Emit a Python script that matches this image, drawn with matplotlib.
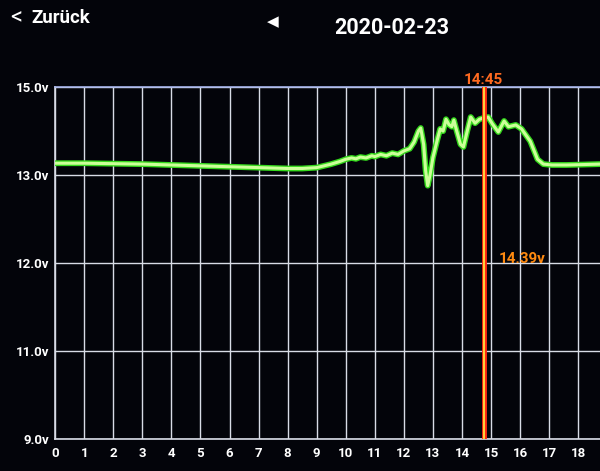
import numpy as np
import matplotlib
matplotlib.use("Agg")
import matplotlib.pyplot as plt

# Spannungsverlauf vom 2020-02-23
hours = [0, 1, 2, 3, 4, 5, 6, 7, 8, 8.5, 9, 9.5, 9.8, 10, 10.2, 10.35, 10.5, 10.7,
         10.9, 11, 11.2, 11.4, 11.6, 11.8, 12, 12.2, 12.35, 12.5, 12.58, 12.68,
         12.75, 12.82, 12.9, 13.0, 13.15, 13.25, 13.35, 13.45, 13.55, 13.65, 13.72,
         13.82, 13.95, 14.05, 14.18, 14.3, 14.45, 14.6, 14.75, 14.9, 15.05, 15.25,
         15.45, 15.6, 15.85, 16.05, 16.35, 16.6, 16.8, 17.1, 17.6, 18.2, 18.75]
volts = [13.27, 13.27, 13.26, 13.25, 13.23, 13.21, 13.19, 13.17, 13.15, 13.15,
         13.17, 13.25, 13.31, 13.36, 13.39, 13.37, 13.41, 13.39, 13.44, 13.42,
         13.47, 13.44, 13.5, 13.47, 13.55, 13.6, 13.75, 14.0, 14.07, 13.7, 13.1,
         12.88, 13.0, 13.4, 13.8, 14.05, 14.0, 14.27, 14.15, 14.1, 14.25, 14.0,
         13.7, 13.64, 14.0, 14.32, 14.18, 14.27, 14.3, 14.32, 14.16, 13.98, 14.23,
         14.1, 14.14, 14.05, 13.77, 13.36, 13.25, 13.23, 13.23, 13.24, 13.25]

y_ticks = [9, 11, 12, 13, 15]
y_labels = ["9.0v", "11.0v", "12.0v", "13.0v", "15.0v"]
x_ticks = list(range(0, 19))
cursor_hour = 14.75
cursor_time = "14:45"
cursor_value = "14.39v"
date_text = "2020-02-23"

plt.rcParams['font.family'] = ['Roboto', 'DejaVu Sans']

fig = plt.figure(figsize=(6, 4.71), dpi=100, facecolor='#03040a')
ax = fig.add_axes([0.092, 0.068, 0.908, 0.747])
ax.set_facecolor('#03040a')

# y-Achse: gleiche Abstaende zwischen 9, 11, 12, 13, 15 V
pos = [0, 1, 2, 3, 4]
ax.set_yscale('function', functions=(lambda v: np.interp(v, y_ticks, pos),
                                     lambda p: np.interp(p, pos, y_ticks)))
ax.set_ylim(9, 15)
ax.set_xlim(0, 18.75)

ax.set_yticks(y_ticks)
ax.set_yticklabels(y_labels)
ax.set_xticks(x_ticks)
ax.tick_params(axis='both', length=0, colors='white', labelsize=9.5)
for lab in ax.get_xticklabels() + ax.get_yticklabels():
    lab.set_fontweight('bold')
ax.tick_params(axis='y', pad=4)
ax.tick_params(axis='x', pad=6)

ax.grid(True, color='#d8dce6', linewidth=1.0)
ax.set_axisbelow(True)
for side in ['left', 'bottom']:
    ax.spines[side].set_color('#d8dce6')
    ax.spines[side].set_linewidth(1.2)
ax.spines['top'].set_color('#aab8ee')
ax.spines['top'].set_linewidth(1.2)
ax.spines['right'].set_visible(False)

# Kurve mit Leuchteffekt
ax.plot(hours, volts, color='#34d81c', linewidth=4.2, solid_joinstyle='round', zorder=3)
ax.plot(hours, volts, color='#ccff9a', linewidth=2.2, solid_joinstyle='round', zorder=4)

# Cursor
ax.axvline(cursor_hour, color='#ff2a10', linewidth=3.5, zorder=5)
ax.axvline(cursor_hour, color='#ffe040', linewidth=1.3, zorder=6)
ax.text(cursor_hour, 15.02, cursor_time, color='#ff6a20', fontsize=11, fontweight='bold',
        ha='center', va='bottom', clip_on=False)
ax.text(cursor_hour + 0.5, 11.97, cursor_value, color='#ff8a10', fontsize=11,
        fontweight='bold', ha='left', va='bottom')

# Kopfzeile
fig.text(10 / 600, 1 - 18 / 471, "<", color='white', fontsize=17, va='center', ha='left')
fig.text(31 / 600, 1 - 18 / 471, "Zurück", color='white', fontsize=13.5,
         fontweight='bold', va='center', ha='left')
fig.text(273 / 600, 1 - 22 / 471, "◀", color='white', fontsize=11, va='center', ha='center',
         family=['DejaVu Sans'])
fig.text(392 / 600, 1 - 28 / 471, date_text, color='white', fontsize=15.5,
         fontweight='bold', va='center', ha='center')

fig.savefig("out.png", dpi=100, facecolor=fig.get_facecolor())
